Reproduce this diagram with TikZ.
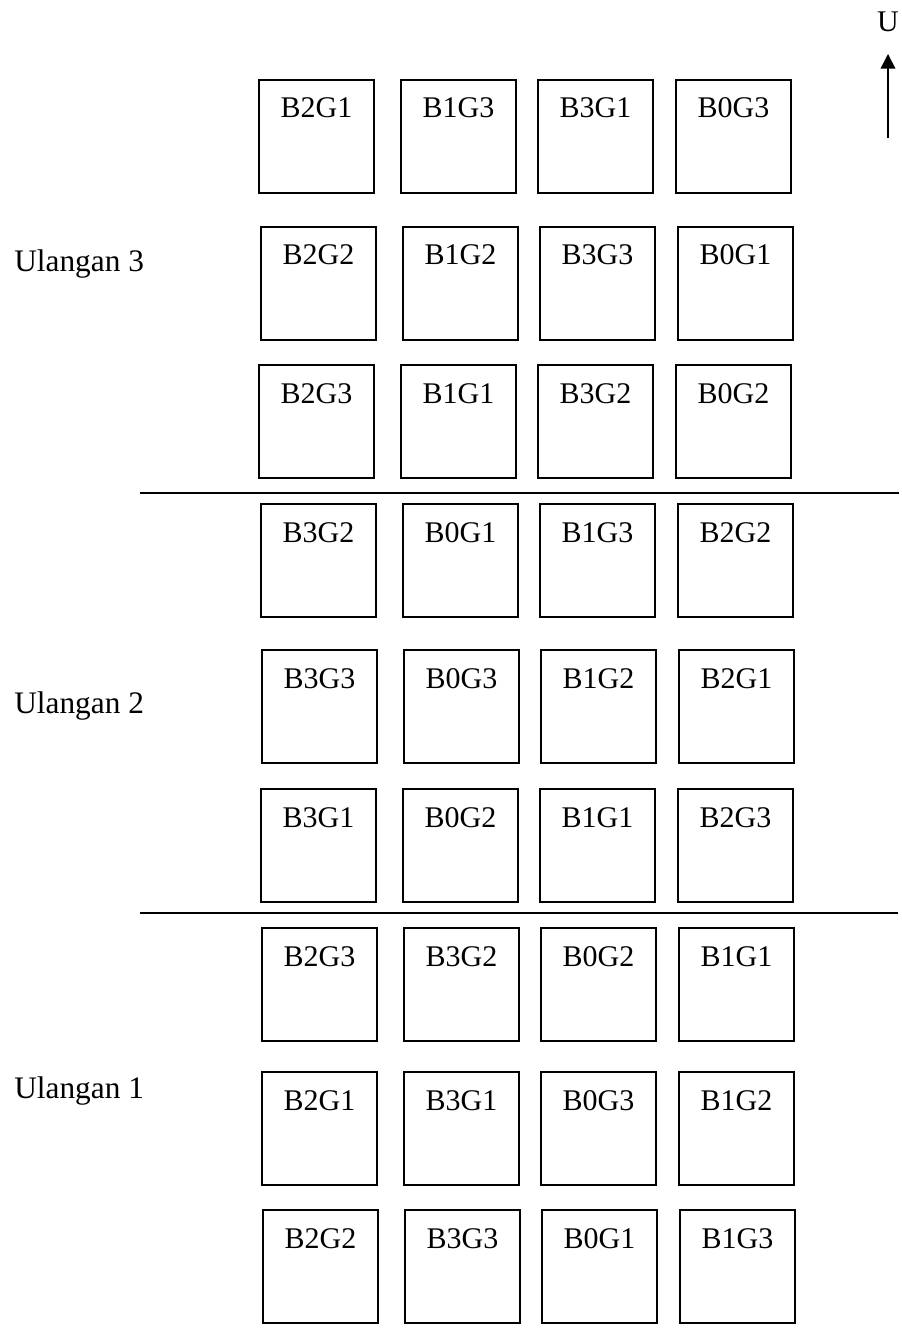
\documentclass[tikz,border=0pt]{standalone}
\usepackage{fontspec}
\setmainfont{Liberation Serif}
\usetikzlibrary{arrows.meta}
\newcommand{\plotrow}[7]{%
  \node[plotbox] (#1a) at (#3+58.5,#2+57.5) {};
  \node[plotbox] (#1b) at (#3+142+58.5,#2+57.5) {};
  \node[plotbox] (#1c) at (#3+279+58.5,#2+57.5) {};
  \node[plotbox] (#1d) at (#3+417+58.5,#2+57.5) {};
  \node[plotlbl] (#1at) at ([yshift=-28.5pt]#1a.north) {#4};
  \node[plotlbl] (#1bt) at ([yshift=-28.5pt]#1b.north) {#5};
  \node[plotlbl] (#1ct) at ([yshift=-28.5pt]#1c.north) {#6};
  \node[plotlbl] (#1dt) at ([yshift=-28.5pt]#1d.north) {#7};
}
\begin{document}
\begin{tikzpicture}[x=0.75pt,y=-0.75pt,
  plotbox/.style={draw=black,line width=1.5pt,minimum width=86.25pt,minimum height=84.75pt,inner sep=0pt,outer sep=0pt},
  plotlbl/.style={anchor=base,inner sep=0pt,font=\fontsize{22.5}{26}\selectfont},
  replbl/.style={anchor=base west,inner sep=0pt,font=\fontsize{23.5}{27}\selectfont},
  divider/.style={draw=black,line width=1pt}]
\useasboundingbox (0,0) rectangle (901,1333);
\fill[white] (0,0) rectangle (901,1333);
% Ulangan 3
\plotrow{ra}{79}{258}{B2G1}{B1G3}{B3G1}{B0G3}
\plotrow{rb}{226}{260}{B2G2}{B1G2}{B3G3}{B0G1}
\plotrow{rc}{364}{258}{B2G3}{B1G1}{B3G2}{B0G2}
% Ulangan 2
\plotrow{rd}{503}{260}{B3G2}{B0G1}{B1G3}{B2G2}
\plotrow{re}{649}{261}{B3G3}{B0G3}{B1G2}{B2G1}
\plotrow{rf}{788}{260}{B3G1}{B0G2}{B1G1}{B2G3}
% Ulangan 1
\plotrow{rg}{927}{261}{B2G3}{B3G2}{B0G2}{B1G1}
\plotrow{rh}{1071}{261}{B2G1}{B3G1}{B0G3}{B1G2}
\plotrow{ri}{1209}{262}{B2G2}{B3G3}{B0G1}{B1G3}
% labels
\node[replbl] (u3) at (14,272) {Ulangan 3};
\node[replbl] (u2) at (14,713) {Ulangan 2};
\node[replbl] (u1) at (14,1098) {Ulangan 1};
% dividers
\coordinate (d1a) at (140,493);
\coordinate (d1b) at (899,493);
\coordinate (d2a) at (140,913);
\coordinate (d2b) at (898,913);
\draw[divider] (d1a) -- (d1b);
\draw[divider] (d2a) -- (d2b);
% north arrow
\node[anchor=base,inner sep=0pt,font=\fontsize{22.5}{26}\selectfont] (north) at (888,32) {U};
\coordinate (arrbot) at (888,138);
\coordinate (arrtop) at (888,54);
\draw[line width=1.25pt,-{Triangle[width=11pt,length=11pt]}] (arrbot) -- (arrtop);
\end{tikzpicture}
\end{document}
